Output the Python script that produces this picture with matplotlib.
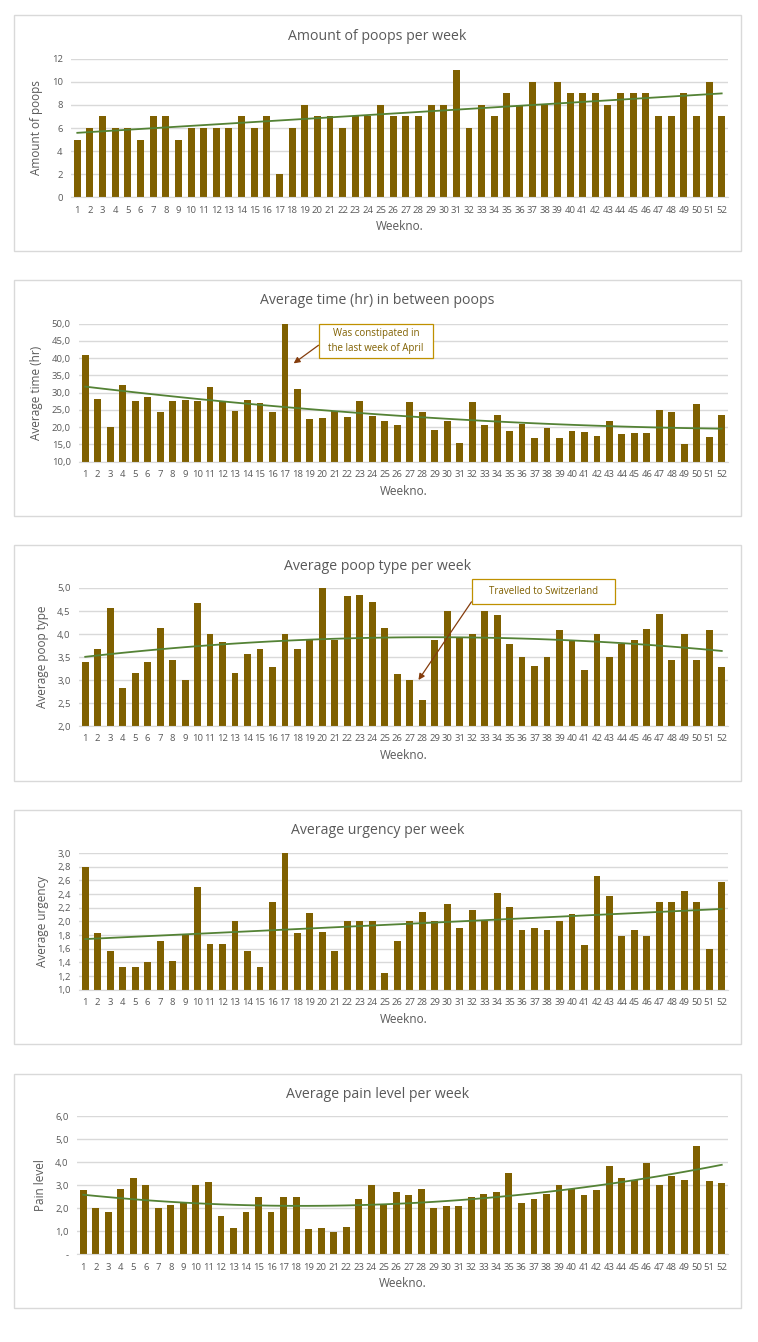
import numpy as np
import matplotlib
matplotlib.use('Agg')
import matplotlib.pyplot as plt
from matplotlib.patches import Rectangle
from matplotlib.ticker import FuncFormatter

plt.rcParams['font.family'] = ['Open Sans', 'DejaVu Sans']

weeks = list(range(1, 53))

poops = [5, 6, 7, 6, 6, 5, 7, 7, 5, 6, 6, 6, 6, 7, 6, 7, 2, 6, 8, 7, 7, 6, 7, 7, 8, 7,
         7, 7, 8, 8, 11, 6, 8, 7, 9, 8, 10, 8, 10, 9, 9, 9, 8, 9, 9, 9, 7, 7, 9, 7, 10, 7]

avg_time = [40.8, 28.3, 20.0, 32.1, 27.6, 28.7, 24.4, 27.6, 28.0, 27.6, 31.7, 27.6, 24.8,
            27.8, 27.1, 24.4, 50.0, 31.1, 22.3, 22.7, 24.6, 23.0, 27.5, 23.3, 21.8, 20.6,
            27.3, 24.4, 19.2, 21.8, 15.4, 27.3, 20.6, 23.4, 19.0, 20.9, 16.9, 19.9, 16.9,
            18.9, 18.7, 17.5, 21.8, 18.0, 18.4, 18.4, 24.9, 24.3, 15.2, 26.7, 17.2, 23.4]

poop_type = [3.39, 3.67, 4.57, 2.83, 3.16, 3.39, 4.14, 3.43, 3.0, 4.67, 4.0, 3.83, 3.16,
             3.57, 3.67, 3.28, 4.0, 3.67, 3.88, 5.0, 3.86, 4.83, 4.85, 4.70, 4.12, 3.14,
             3.0, 2.57, 3.86, 4.5, 3.92, 4.0, 4.5, 4.42, 3.78, 3.49, 3.30, 3.49, 4.09,
             3.88, 3.22, 4.0, 3.49, 3.78, 3.88, 4.10, 4.43, 3.43, 4.0, 3.43, 4.09, 3.28]

urgency = [2.80, 1.83, 1.57, 1.33, 1.33, 1.40, 1.71, 1.42, 1.80, 2.50, 1.67, 1.67, 2.0,
           1.57, 1.33, 2.29, 3.0, 1.83, 2.12, 1.85, 1.57, 2.0, 2.0, 2.0, 1.25, 1.71,
           2.0, 2.14, 2.0, 2.25, 1.90, 2.16, 2.0, 2.42, 2.21, 1.87, 1.90, 1.87, 2.0,
           2.11, 1.66, 2.67, 2.37, 1.78, 1.88, 1.78, 2.28, 2.28, 2.44, 2.28, 1.60, 2.57]

pain = [2.78, 2.0, 1.84, 2.83, 3.32, 3.0, 2.0, 2.14, 2.23, 3.0, 3.14, 1.65, 1.16,
        1.84, 2.49, 1.84, 2.49, 2.49, 1.12, 1.14, 0.99, 1.17, 2.42, 3.0, 2.13, 2.71,
        2.57, 2.86, 2.0, 2.12, 2.09, 2.49, 2.61, 2.71, 3.54, 2.23, 2.39, 2.61, 3.0,
        2.86, 2.57, 2.78, 3.86, 3.32, 3.22, 3.99, 3.0, 3.42, 3.22, 4.71, 3.20, 3.12]

BAR = '#7F6000'
TREND = '#548235'
GRID = '#D9D9D9'
TXT = '#595959'

W, H = 758, 1342
fig = plt.figure(figsize=(W / 100, H / 100), dpi=100)


def fr(x0, y0, x1, y1):
    return [x0 / W, 1 - y1 / H, (x1 - x0) / W, (y1 - y0) / H]


def comma(v, pos):
    return ('%.1f' % v).replace('.', ',')


def panel(box, plot, values, title, ylabel, ylim, step, fmt, deg):
    bx0, by0, bx1, by1 = box
    fig.patches.append(Rectangle((bx0 / W, 1 - by1 / H), (bx1 - bx0) / W, (by1 - by0) / H,
                                 transform=fig.transFigure, facecolor='white',
                                 edgecolor='#D9D9D9', lw=1.0, zorder=-5))
    ax = fig.add_axes(fr(*plot))
    ax.set_facecolor('none')
    ax.bar(weeks, np.array(values) - ylim[0], bottom=ylim[0], width=0.55, color=BAR, zorder=2)
    # trendline (least squares, like excel)
    x = np.array(weeks, dtype=float)
    yt = np.polyval(np.polyfit(x, np.array(values, dtype=float), deg), x)
    ax.plot(x, yt, color=TREND, lw=1.3, zorder=3)
    ax.set_xlim(0.5, 52.5)
    ax.set_ylim(*ylim)
    ax.set_yticks(np.arange(ylim[0], ylim[1] + step / 2, step))
    ax.yaxis.set_major_formatter(FuncFormatter(fmt))
    ax.set_xticks(weeks)
    ax.set_xticklabels([str(w) for w in weeks])
    ax.grid(axis='y', color=GRID, lw=1.0, zorder=0)
    ax.set_axisbelow(True)
    for s in ['top', 'right', 'left']:
        ax.spines[s].set_visible(False)
    ax.spines['bottom'].set_color(GRID)
    ax.tick_params(length=0, colors=TXT, labelsize=6.8)
    ax.tick_params(axis='x', pad=6)
    ax.tick_params(axis='y', pad=6)
    ax.set_xlabel('Weekno.', color=TXT, fontsize=8.5, labelpad=4)
    ax.set_ylabel(ylabel, color=TXT, fontsize=8.5, labelpad=6)
    fig.text((bx0 + bx1) / 2 / W, 1 - (by0 + 21) / H, title, ha='center', va='center',
             color=TXT, fontsize=10.2)
    return ax


ax1 = panel((14, 15, 741, 251), (71, 58.7, 728, 197.3), poops, 'Amount of poops per week',
            'Amount of poops', (0, 12), 2, lambda v, p: '%d' % v, 1)
ax2 = panel((14, 280, 741, 516), (79, 323.7, 728, 461.7), avg_time,
            'Average time (hr) in between poops', 'Average time (hr)', (10, 50), 5, comma, 2)
ax3 = panel((14, 545, 741, 781), (79, 588, 728, 726), poop_type, 'Average poop type per week',
            'Average poop type', (2, 5), 0.5, comma, 2)
ax4 = panel((14, 810, 741, 1044), (79, 853, 728, 989.7), urgency, 'Average urgency per week',
            'Average urgency', (1, 3), 0.2, comma, 1)
ax5 = panel((14, 1074, 741, 1308), (77, 1116.3, 728, 1254.3), pain,
            'Average pain level per week', 'Pain level', (0, 6), 1,
            lambda v, p: '-' if v == 0 else comma(v, p), 2)

# annotations
ARROW = '#843C0C'
ax2.annotate('  Was constipated in  \n  the last week of April  ', xy=(17.7, 38.5),
             xytext=(24.3, 45.0), textcoords='data', ha='center', va='center',
             fontsize=7, color='#806000', linespacing=1.5,
             bbox=dict(boxstyle='square,pad=0.45', fc='white', ec='#BF9000', lw=0.9),
             arrowprops=dict(arrowstyle='-|>', color=ARROW, lw=0.9,
                             mutation_scale=9, shrinkA=0, shrinkB=0,
                             relpos=(0.0, 0.47)))
ax3.annotate('    Travelled to Switzerland    ', xy=(27.7, 3.0), xytext=(37.7, 4.92),
             textcoords='data', ha='center', va='center', fontsize=7, color='#806000',
             bbox=dict(boxstyle='square,pad=0.7', fc='white', ec='#BF9000', lw=0.9),
             arrowprops=dict(arrowstyle='-|>', color=ARROW, lw=0.9,
                             mutation_scale=9, shrinkA=0, shrinkB=0,
                             relpos=(0.0, 0.55)))

fig.savefig('out.png', dpi=100, facecolor='white')
